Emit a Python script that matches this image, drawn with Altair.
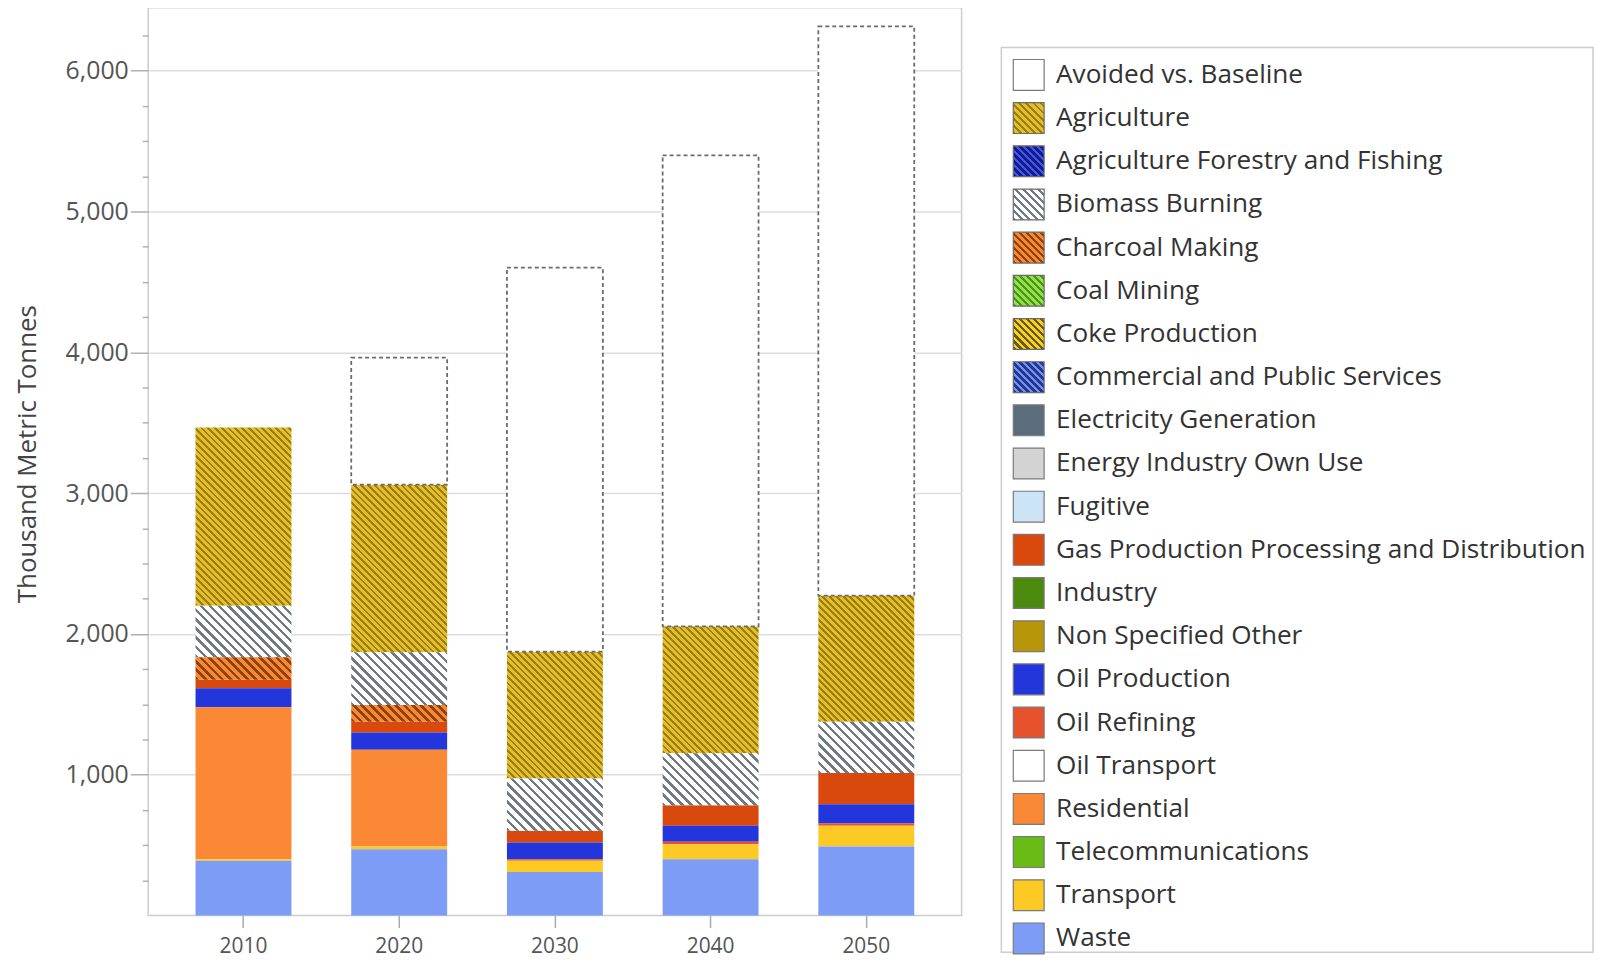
import math
import altair as alt
import pandas as pd

# ---------------- data ----------------
years = ["2010", "2020", "2030", "2040", "2050"]
categories = [
    "Avoided vs. Baseline", "Agriculture", "Agriculture Forestry and Fishing",
    "Biomass Burning", "Charcoal Making", "Coal Mining", "Coke Production",
    "Commercial and Public Services", "Electricity Generation",
    "Energy Industry Own Use", "Fugitive",
    "Gas Production Processing and Distribution", "Industry",
    "Non Specified Other", "Oil Production", "Oil Refining", "Oil Transport",
    "Residential", "Telecommunications", "Transport", "Waste",
]
avoided_vs_baseline = [0, 902, 2727, 3345, 4043]
agriculture = [1265, 1190, 900, 902, 895]
biomass_burning = [365, 375, 372, 368, 365]
charcoal_making = [160, 118, 0, 0, 0]
gas_production = [60, 77, 83, 147, 221]
oil_production = [135, 122, 119, 113, 137]
oil_refining = [0, 0, 11, 17, 17]
residential = [1080, 688, 0, 0, 0]
transport = [10, 20, 79, 107, 147]
waste = [390, 470, 310, 400, 490]
y_ticks = list(range(250, 6251, 250))

colors = [
    "#ffffff", "#c9a21f", "#2b3ce6", "#c4c8cc", "#e07a2c", "#6fcf2f", "#e8c21a",
    "#5a7be8", "#5b6d7c", "#d3d3d3", "#cde3f6", "#d9480c", "#4c8a0e",
    "#b8960a", "#2236dc", "#e6522c", "#ffffff", "#fb8834", "#69bb16",
    "#fdc925", "#7d9cf5",
]
# dark stripe, light stripe, dark share, period in bars, period in legend
hatch = {
    "Agriculture": ("#9c8000", "#e3bd36", 0.42, 4.8, 5.0),
    "Agriculture Forestry and Fishing": ("#141c80", "#3f55f2", 0.5, 5.0, 5.0),
    "Biomass Burning": ("#6f7a85", "#ffffff", 0.38, 6.5, 5.5),
    "Charcoal Making": ("#93400f", "#f58a32", 0.45, 6.0, 5.0),
    "Coal Mining": ("#4a9418", "#93e04c", 0.5, 5.0, 5.0),
    "Coke Production": ("#6a5816", "#f6d21c", 0.45, 5.0, 5.0),
    "Commercial and Public Services": ("#26378f", "#7090f2", 0.5, 5.0, 5.0),
}

series = {
    "Avoided vs. Baseline": avoided_vs_baseline,
    "Agriculture": agriculture,
    "Biomass Burning": biomass_burning,
    "Charcoal Making": charcoal_making,
    "Gas Production Processing and Distribution": gas_production,
    "Oil Production": oil_production,
    "Oil Refining": oil_refining,
    "Residential": residential,
    "Transport": transport,
    "Waste": waste,
}

rows = []
for cat, vals in series.items():
    for yr, v in zip(years, vals):
        rows.append({"year": yr, "category": cat, "value": v,
                     "order": len(categories) - 1 - categories.index(cat)})
df = pd.DataFrame(rows)

# ---------------- geometry / style ----------------
PLOT_W, PLOT_H = 818, 913
Y_MAX = 6447
PAD_IN, PAD_OUT = 0.384, 0.304
step = PLOT_W / (len(years) - PAD_IN + 2 * PAD_OUT)
band_w = step * (1 - PAD_IN)
px_per_unit = PLOT_H / Y_MAX
FONT = "Open Sans"


def stripes(dark, light, duty, period, w, h):
    c = (w + h) / (w * w + h * h)
    n = (w + h) / (math.sqrt(2) * period)
    stops = []
    k = 0
    while k < n:
        o0 = min(k / n, 1.0)
        o1 = min((k + duty) / n, 1.0)
        o2 = min((k + 1) / n, 1.0)
        stops += [
            alt.GradientStop(color=dark, offset=o0),
            alt.GradientStop(color=dark, offset=o1),
            alt.GradientStop(color=light, offset=o1),
            alt.GradientStop(color=light, offset=o2),
        ]
        k += 1
    return alt.LinearGradient(gradient="linear", stops=stops,
                              x1=0, y1=1, x2=c * w, y2=1 - c * h)


x_axis = alt.Axis(title=None, labelAngle=0, labelFont=FONT, labelFontSize=21,
                  labelColor="#555555", tickSize=12, tickColor="#aaaaaa",
                  tickWidth=1.5, labelPadding=8, domain=False, grid=False)
y_axis = alt.Axis(
    values=y_ticks,
    labelExpr="datum.value % 1000 === 0 ? format(datum.value, ',') : ''",
    labelOverlap=False,
    title="Thousand Metric Tonnes", titleFont=FONT, titleFontSize=26,
    titleFontWeight="normal", titleColor="#444444", titlePadding=26,
    titleY=PLOT_H / 2 - 8,
    labelFont=FONT, labelFontSize=25, labelColor="#555555", labelPadding=2,
    tickSize=18, tickColor="#b0b0b0", tickWidth=1.5,
    tickDash={"condition": {"test": "datum.value % 1000 !== 0", "value": [6, 40]},
              "value": [1, 0]},
    domain=False, grid=True, gridColor="#dddddd", gridWidth=1.5,
    gridOpacity={"condition": {"test": "datum.value % 1000 === 0", "value": 1},
                 "value": 0},
    minExtent=82, maxExtent=82,
)

x_enc = alt.X("year:N", sort=years,
              scale=alt.Scale(paddingInner=PAD_IN, paddingOuter=PAD_OUT),
              axis=x_axis)
y_enc = alt.Y("y0:Q", scale=alt.Scale(domain=[0, Y_MAX], nice=False), axis=y_axis)
y2_enc = alt.Y2("y1:Q")
color_scale = alt.Scale(domain=categories, range=colors)

base = alt.Chart(df).transform_stack(
    stack="value", groupby=["year"], as_=["y0", "y1"],
    sort=[alt.SortField("order", order="ascending")],
).transform_filter("datum.value > 0")

solid_cats = [c for c in series if c not in hatch and c != "Avoided vs. Baseline"]
solid = base.transform_filter(
    alt.FieldOneOfPredicate(field="category", oneOf=solid_cats)
).mark_bar().encode(
    x=x_enc, y=y_enc, y2=y2_enc,
    color=alt.Color("category:N", scale=color_scale, legend=None),
)

layers = [solid]
for cat, vals in series.items():
    if cat not in hatch:
        continue
    dark, light, duty, p_bar, _ = hatch[cat]
    for yr, v in zip(years, vals):
        if v <= 0:
            continue
        grad = stripes(dark, light, duty, p_bar, band_w, v * px_per_unit)
        layers.append(
            base.transform_filter(
                f"datum.category == '{cat}' && datum.year == '{yr}'"
            ).mark_bar(fill=grad).encode(x=x_enc, y=y_enc, y2=y2_enc)
        )

avoided = base.transform_filter(
    "datum.category == 'Avoided vs. Baseline'"
).mark_bar(fill="white", stroke="#6b6b6b", strokeDash=[4, 3],
           strokeWidth=1.8).encode(x=x_enc, y=y_enc, y2=y2_enc)
layers.append(avoided)

main = alt.layer(*layers).properties(width=PLOT_W, height=PLOT_H)

# ---------------- legend panel ----------------
leg_df = pd.DataFrame({"category": categories})
leg_y = alt.Y("category:N", sort=categories,
              scale=alt.Scale(type="point", range=[27.6, 896.0], padding=0),
              axis=None)
SW = 31

leg_layers = [
    alt.Chart(leg_df).transform_filter(
        alt.FieldOneOfPredicate(field="category",
                                oneOf=[c for c in categories if c not in hatch])
    ).mark_square(size=SW * SW, opacity=1, stroke="#7a7a7a", strokeWidth=1.2).encode(
        y=leg_y, x=alt.value(27.5),
        fill=alt.Fill("category:N", scale=color_scale, legend=None),
    )
]
for cat, (dark, light, duty, _, p_leg) in hatch.items():
    leg_layers.append(
        alt.Chart(leg_df).transform_filter(f"datum.category == '{cat}'")
        .mark_square(size=SW * SW, opacity=1,
                     fill=stripes(dark, light, duty, p_leg, SW, SW),
                     stroke="#6a6a6a", strokeWidth=1.2)
        .encode(y=leg_y, x=alt.value(27.5))
    )
leg_layers.append(
    alt.Chart(leg_df).mark_text(align="left", baseline="middle", font=FONT,
                                fontSize=26.3, color="#333333").encode(
        y=leg_y, x=alt.value(55), text="category:N")
)
legend = alt.layer(*leg_layers).properties(width=595, height=910)

spacer = alt.Chart(leg_df).mark_rect(opacity=0).encode(
    x=alt.value(0), x2=alt.value(1), y=alt.value(0), y2=alt.value(1)
).properties(width=595, height=1, view=alt.ViewBackground(stroke="transparent"))

right = alt.vconcat(spacer, legend, spacing=37)

chart = alt.hconcat(main, right, spacing=38).properties(
    padding={"left": 6, "top": -4, "right": 0, "bottom": 0}
).configure_view(stroke="#cccccc", strokeWidth=1.5)

chart.save("out.html", embed_options={"renderer": "svg", "actions": False})
